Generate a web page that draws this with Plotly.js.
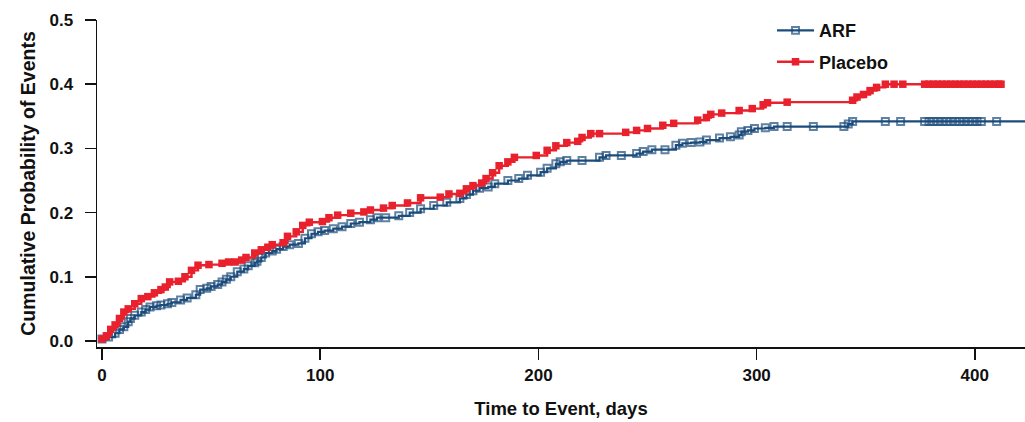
<!DOCTYPE html>
<html>
<head>
<meta charset="utf-8">
<script src="https://cdn.plot.ly/plotly-3.0.1.min.js"></script>
<style>
  html, body { margin: 0; padding: 0; background: #ffffff; }
  #chart { width: 1025px; height: 422px; }
</style>
</head>
<body>
<div id="chart"></div>
<script>
// Time to event (days) and cumulative probability of events — Placebo
const placeboDays = [0, 2, 4, 6, 8, 10, 12, 15, 18, 21, 24, 27, 29, 31, 35, 38, 41, 44, 49, 55, 58, 61, 64, 66, 70,
  73, 76, 78, 83, 85, 89, 92, 95, 101, 104, 108, 114, 120, 123, 129, 133, 140, 146, 155, 159, 164, 167, 170, 174,
  176, 179, 182, 186, 189, 199, 204, 208, 213, 218, 220, 224, 228, 240, 245, 250, 257, 262, 273, 277, 279, 284,
  292, 298, 303, 305, 314, 344, 346, 349, 352, 355, 359, 363, 367,
  377, 379, 381, 383, 385, 387, 389, 391, 393, 395, 397, 399, 401, 403, 405, 407, 409, 411, 412];
const placeboProb = [0.003, 0.008, 0.018, 0.025, 0.035, 0.045, 0.05, 0.058, 0.066, 0.069, 0.075, 0.08, 0.084, 0.092,
  0.093, 0.10, 0.11, 0.118, 0.119, 0.121, 0.123, 0.123, 0.126, 0.13, 0.137, 0.142, 0.146, 0.15, 0.153, 0.163, 0.17,
  0.18, 0.185, 0.186, 0.192, 0.196, 0.199, 0.201, 0.204, 0.207, 0.211, 0.215, 0.223, 0.224, 0.229, 0.23, 0.237,
  0.242, 0.246, 0.253, 0.262, 0.273, 0.279, 0.286, 0.289, 0.297, 0.304, 0.309, 0.311, 0.317, 0.323, 0.323, 0.325,
  0.328, 0.331, 0.336, 0.339, 0.344, 0.348, 0.353, 0.355, 0.359, 0.362, 0.368, 0.371, 0.372, 0.375, 0.380, 0.384,
  0.39, 0.395, 0.40, 0.40, 0.40,
  0.40, 0.40, 0.40, 0.40, 0.40, 0.40, 0.40, 0.40, 0.40, 0.40, 0.40, 0.40, 0.40, 0.40, 0.40, 0.40, 0.40, 0.40, 0.40];

// ARF
const arfDays = [0, 3, 6, 8, 10, 12, 13, 15, 18, 20, 22, 25, 27, 30, 32, 36, 39, 43, 45, 48, 50, 53, 55, 57, 59, 62,
  65, 67, 70, 71, 73, 75, 78, 80, 83, 86, 90, 93, 96, 99, 102, 106, 110, 114, 118, 123, 126, 130, 136, 141, 146,
  152, 158, 164, 167, 170, 173, 177, 180, 186, 191, 195, 201, 204, 208, 210, 213, 220, 228, 231, 238, 245, 248, 252,
  258, 263, 266, 270, 274, 277, 283, 288, 292, 293, 296, 299, 304, 308, 314, 326, 340, 342, 344, 359, 366,
  377, 379, 381, 383, 385, 387, 389, 391, 393, 395, 397, 399, 401, 403, 410, 423];
const arfProb = [0.003, 0.006, 0.012, 0.018, 0.022, 0.03, 0.035, 0.04, 0.045, 0.049, 0.053, 0.055, 0.056, 0.058,
  0.06, 0.064, 0.067, 0.072, 0.08, 0.082, 0.085, 0.088, 0.092, 0.096, 0.10, 0.108, 0.112, 0.117, 0.122, 0.124, 0.13,
  0.137, 0.14, 0.143, 0.147, 0.15, 0.152, 0.16, 0.167, 0.17, 0.172, 0.175, 0.178, 0.183, 0.185, 0.189, 0.192, 0.192,
  0.195, 0.200, 0.206, 0.211, 0.216, 0.222, 0.228, 0.234, 0.238, 0.24, 0.245, 0.25, 0.253, 0.258, 0.263, 0.269,
  0.276, 0.279, 0.281, 0.281, 0.286, 0.289, 0.289, 0.292, 0.295, 0.298, 0.298, 0.305, 0.308, 0.309, 0.31, 0.313,
  0.316, 0.318, 0.321, 0.326, 0.328, 0.331, 0.332, 0.334, 0.334, 0.334, 0.334, 0.338, 0.342, 0.342, 0.342,
  0.342, 0.342, 0.342, 0.342, 0.342, 0.342, 0.342, 0.342, 0.342, 0.342, 0.342, 0.342, 0.342, 0.342, 0.342, 0.342];

const seriesNames = ['ARF', 'Placebo'];
const xTickVals = [0, 100, 200, 300, 400];
const yTickVals = [0.0, 0.1, 0.2, 0.3, 0.4, 0.5];

const BLUE = '#1b4c7b';
const RED = '#e8212c';
const FONT = 'Liberation Sans, Arial, Helvetica, sans-serif';

// last ARF point only continues the line to the axis end (no marker)
const arfSizes = arfDays.map((d, i) => (i === arfDays.length - 1 ? 0 : 7));

const traces = [
  {
    x: arfDays, y: arfProb, name: seriesNames[0], type: 'scatter', mode: 'lines+markers',
    legendgroup: 'a',
    line: { color: BLUE, width: 2.2, shape: 'hv' },
    marker: { symbol: 'square-open', size: arfSizes, color: BLUE, line: { width: 2, color: BLUE } },
    hoverinfo: 'skip'
  },
  {
    x: placeboDays, y: placeboProb, name: seriesNames[1], type: 'scatter', mode: 'lines+markers',
    legendgroup: 'b',
    line: { color: RED, width: 2.4, shape: 'hv' },
    marker: { symbol: 'square', size: 7.5, color: RED },
    hoverinfo: 'skip'
  }
];

const layout = {
  width: 1025, height: 422,
  margin: { l: 97, r: 0, t: 20, b: 75, pad: 0 },
  paper_bgcolor: '#ffffff', plot_bgcolor: '#ffffff',
  font: { family: FONT, color: '#111111' },
  showlegend: true,
  legend: {
    x: 0.7274, y: 1.024, xanchor: 'left', yanchor: 'top',
    bgcolor: 'rgba(0,0,0,0)', borderwidth: 0,
    font: { family: FONT, size: 18, color: '#111111', weight: 'bold' },
    traceorder: 'grouped', tracegroupgap: 5, itemwidth: 37
  },
  xaxis: {
    range: [-2.3, 423], tickvals: xTickVals, ticktext: xTickVals.map(String),
    showgrid: false, zeroline: false, showline: true, linecolor: '#111111', linewidth: 1.5,
    ticks: 'outside', ticklen: 11, tickwidth: 1.5, tickcolor: '#111111',
    ticklabelstandoff: 1,
    tickfont: { family: FONT, size: 17, color: '#111111', weight: 'bold' },
    title: { text: 'Time to Event, days', standoff: 18,
      font: { family: FONT, size: 18.5, color: '#111111', weight: 'bold' } }
  },
  yaxis: {
    range: [-0.0094, 0.5], tickvals: yTickVals, ticktext: yTickVals.map(v => v.toFixed(1)),
    showgrid: false, zeroline: false, showline: true, linecolor: '#111111', linewidth: 1.5,
    ticks: 'outside', ticklen: 11, tickwidth: 1.5, tickcolor: '#111111',
    ticklabelstandoff: 8,
    tickfont: { family: FONT, size: 17, color: '#111111', weight: 'bold' },
    title: { text: 'Cumulative Probability of Events', standoff: 8,
      font: { family: FONT, size: 19.5, color: '#111111', weight: 'bold' } }
  }
};

Plotly.newPlot('chart', traces, layout, { staticPlot: true, displayModeBar: false });
</script>
</body>
</html>
